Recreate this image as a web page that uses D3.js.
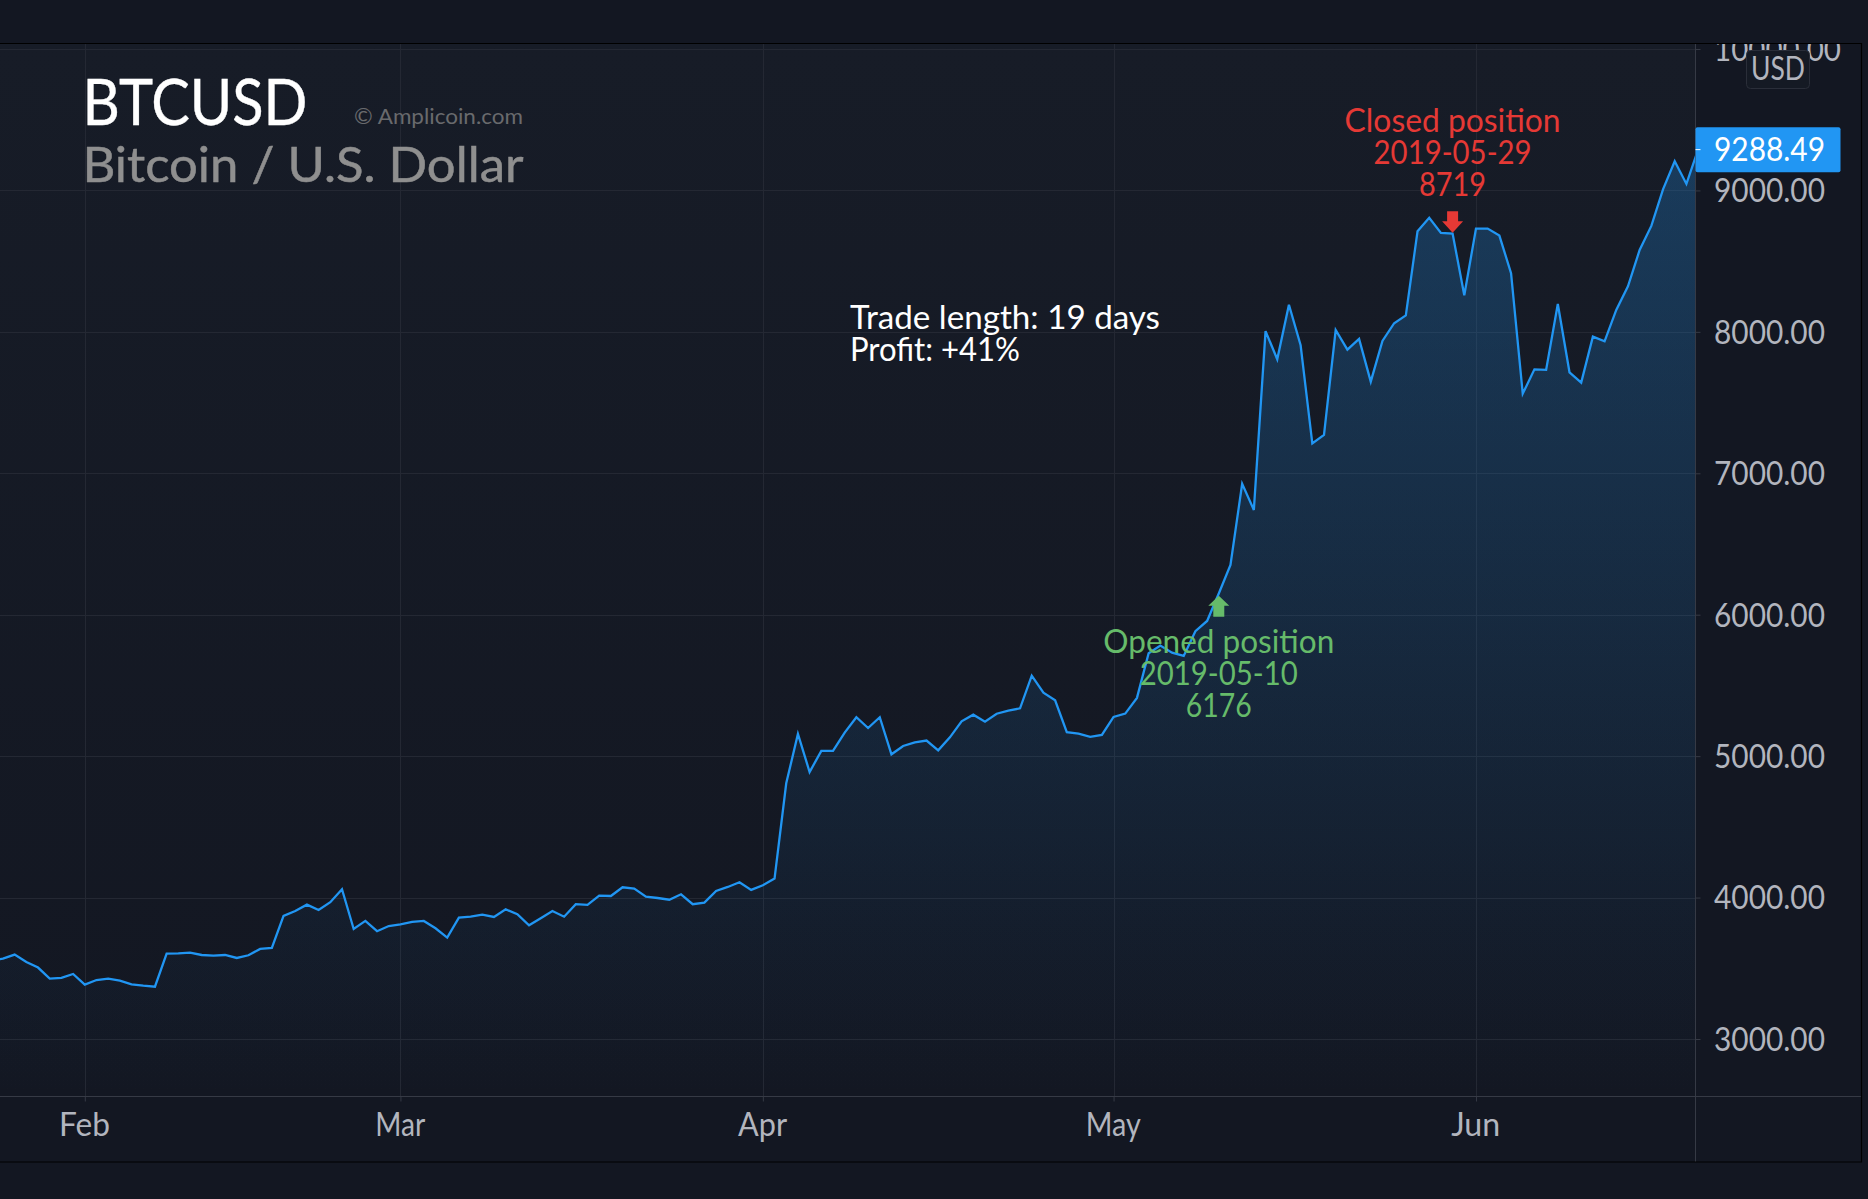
<!DOCTYPE html>
<html><head><meta charset="utf-8">
<script src="https://cdn.jsdelivr.net/npm/d3@7/dist/d3.min.js"></script>
<style>html,body{margin:0;padding:0;background:#131722;overflow:hidden}svg{display:block}</style>
</head><body><svg id="c" width="1868" height="1199"></svg>
<script>
const closes = [3554,3568,3597,3545,3505,3427,3432,3460,3385,3417,3427,3413,3387,3377,3370,3604,3606,3611,3594,3590,3594,3573,3592,3637,3644,3870,3905,3950,3912,3967,4059,3778,3835,3762,3799,3811,3828,3835,3783,3717,3858,3865,3879,3863,3917,3882,3804,3854,3905,3865,3953,3948,4014,4011,4073,4063,4007,3997,3985,4023,3953,3964,4047,4075,4108,4054,4087,4134,4808,5157,4888,5037,5037,5166,5275,5199,5275,5013,5072,5098,5110,5041,5133,5246,5293,5244,5300,5322,5338,5569,5449,5395,5169,5159,5136,5150,5277,5301,5412,5727,5782,5732,5709,5883,5956,6150,6352,6925,6741,8005,7806,8192,7905,7211,7272,8013,7874,7950,7648,7936,8061,8116,8711,8806,8700,8695,8259,8730,8730,8681,8415,7563,7735,7731,8197,7714,7641,7966,7933,8155,8322,8579,8749,9008,9206,9046,9288.49];
const monthLabels = ["Feb","Mar","Apr","May","Jun"];
const monthIndex = [8,35,66,96,127];
const priceTicks = [3000,4000,5000,6000,7000,8000,9000,10000];
const lastPrice = 9288.49;
const openIndex = 105, openPrice = 6176;
const closeIndex = 125, closePrice = 8719;
const openLines = ["Opened position","2019-05-10","6176"];
const closeLines = ["Closed position","2019-05-29","8719"];
const tradeLines = ["Trade length: 19 days","Profit: +41%"];

// layout: rendered widths that stand in for the reference's typeface metrics
const monthWidths=[51,50,49,55,49], openWidths=[231,158,66], closeWidths=[216,158,67], tradeWidths=[310,170];
const W=1868,H=1199,paneT=44,paneR=1695.5,axisY=1096.5,paneB=1162,frameR=1861.5;
const UI="Lato, 'Open Sans', sans-serif", TITLE="Lato, 'Open Sans', sans-serif", FS=32;
const svg=d3.select("#c");
const x=d3.scaleLinear().domain([8,146]).range([84.8,1698.1]);
const y=d3.scaleLinear().domain([3000,10000]).range([1039,49]);
const defs=svg.append("defs");
const g1=defs.append("linearGradient").attr("id","bg").attr("gradientUnits","userSpaceOnUse").attr("x1",0).attr("x2",0).attr("y1",paneT).attr("y2",axisY);
g1.append("stop").attr("offset",0).attr("stop-color","#171c27");
g1.append("stop").attr("offset",1).attr("stop-color","#131722");
const g2=defs.append("linearGradient").attr("id","ar").attr("gradientUnits","userSpaceOnUse").attr("x1",0).attr("x2",0).attr("y1",paneT).attr("y2",axisY);
g2.append("stop").attr("offset",0).attr("stop-color","#2196f3").attr("stop-opacity",.29);
g2.append("stop").attr("offset",1).attr("stop-color","#2196f3").attr("stop-opacity",.0);
defs.append("clipPath").attr("id","pane").append("rect").attr("x",0).attr("y",paneT).attr("width",paneR).attr("height",axisY-paneT);
defs.append("clipPath").attr("id","price").append("rect").attr("x",paneR).attr("y",paneT).attr("width",frameR-paneR).attr("height",axisY-paneT);

svg.append("rect").attr("width",W).attr("height",H).attr("fill","#131722");
svg.append("rect").attr("x",0).attr("y",paneT).attr("width",paneR).attr("height",axisY-paneT).attr("fill","url(#bg)");

const gridC="#242833";
const gp=svg.append("g").attr("clip-path","url(#pane)");
gp.selectAll("line.h").data(priceTicks).join("line").attr("class","h").attr("x1",0).attr("x2",paneR).attr("y1",d=>Math.round(y(d))+.5).attr("y2",d=>Math.round(y(d))+.5).attr("stroke",gridC).attr("stroke-width",1);
gp.selectAll("line.v").data(monthIndex).join("line").attr("class","v").attr("y1",paneT).attr("y2",axisY).attr("x1",d=>Math.round(x(d))+.5).attr("x2",d=>Math.round(x(d))+.5).attr("stroke",gridC).attr("stroke-width",1);

const pts=closes.map((v,i)=>[i,v]);
gp.append("path").datum(pts).attr("fill","url(#ar)").attr("d",d3.area().x(d=>x(d[0])).y0(axisY).y1(d=>y(d[1])));
gp.append("path").datum(pts).attr("fill","none").attr("stroke","#2196f3").attr("stroke-width",2.3).attr("stroke-linejoin","miter").attr("d",d3.line().x(d=>x(d[0])).y(d=>y(d[1])));

// axes
const axisC="#363a45";
const xa=svg.append("g").attr("transform",`translate(0,${axisY})`).call(d3.axisBottom(x).tickValues(monthIndex).tickFormat((d,i)=>monthLabels[i]).tickSize(5));
xa.select(".domain").remove();
xa.selectAll("line").attr("stroke",axisC);
xa.selectAll("text").attr("x",-0.8).attr("y",39.2).attr("dy",0).attr("fill","#b2b5be").attr("font-family",UI).attr("font-size",FS)
  .attr("textLength",(d,i)=>monthWidths[i]).attr("lengthAdjust","spacingAndGlyphs");
const ya=svg.append("g").attr("clip-path","url(#price)").append("g").attr("transform",`translate(${paneR},0)`).call(d3.axisRight(y).tickValues(priceTicks).tickFormat(d3.format(".2f")).tickSize(5));
ya.select(".domain").remove();
ya.selectAll("line").attr("stroke",axisC);
ya.selectAll("text").attr("x",18.5).attr("dy",11.3).attr("fill","#b2b5be").attr("font-family",UI).attr("font-size",FS)
  .attr("textLength",d=>d>=10000?127:111).attr("lengthAdjust","spacingAndGlyphs");

svg.append("line").attr("x1",0).attr("x2",frameR).attr("y1",axisY).attr("y2",axisY).attr("stroke",axisC);
svg.append("line").attr("x1",paneR).attr("x2",paneR).attr("y1",paneT).attr("y2",paneB).attr("stroke",axisC);

// frame
svg.append("path").attr("fill","none").attr("stroke","#000").attr("stroke-width",1.2).attr("d",`M0,${paneT-.5}H${frameR}V${paneB}H0`);

// last price label
const py=y(lastPrice);
svg.append("rect").attr("x",paneR).attr("y",py-22.5).attr("width",frameR-21-paneR).attr("height",45).attr("rx",2).attr("fill","#2196f3");
svg.append("line").attr("x1",paneR).attr("x2",paneR+5).attr("y1",py).attr("y2",py).attr("stroke","#fff");
svg.append("text").attr("x",paneR+18.5).attr("y",py+11.8).attr("fill","#fff").attr("font-family",UI).attr("font-size",FS).attr("textLength",111).attr("lengthAdjust","spacingAndGlyphs").text(d3.format(".2f")(lastPrice));

// USD badge
svg.append("rect").attr("x",1746.5).attr("y",50.5).attr("width",63).attr("height",38).attr("rx",4).attr("fill","#151a24").attr("stroke","#2a2e39");
svg.append("text").attr("x",1778).attr("y",80).attr("text-anchor","middle").attr("fill","#b2b5be").attr("font-family",UI).attr("font-size",FS).attr("textLength",54).attr("lengthAdjust","spacingAndGlyphs").text("USD");

// watermark
const wm=svg.append("g");
wm.append("text").attr("x",82.5).attr("y",124.5).attr("fill","#fff").attr("stroke","#fff").attr("stroke-width",.4).attr("font-family",TITLE).attr("font-size",64).attr("textLength",225).attr("lengthAdjust","spacingAndGlyphs").text("BTCUSD");
wm.append("text").attr("x",82.5).attr("y",182).attr("fill","#8f8f8f").attr("stroke","#8f8f8f").attr("stroke-width",.5).attr("font-family",TITLE).attr("font-size",49).attr("textLength",441).attr("lengthAdjust","spacingAndGlyphs").text("Bitcoin / U.S. Dollar");
wm.append("text").attr("x",354).attr("y",124).attr("fill","#696a6d").attr("font-family",TITLE).attr("font-size",22).attr("textLength",169).attr("lengthAdjust","spacingAndGlyphs").text("© Amplicoin.com");

// annotations
const upArrow="M0,-10 L10.5,0 L5.5,0 L5.5,11 L-5.5,11 L-5.5,0 L-10.5,0 Z";
const downArrow="M0,10.5 L10.5,-1 L5.5,-1 L5.5,-11 L-5.5,-11 L-5.5,-1 L-10.5,-1 Z";
svg.append("path").attr("d",upArrow).attr("fill","#66bb6a").attr("transform",`translate(${x(openIndex)},${y(openPrice)+16})`);
svg.append("path").attr("d",downArrow).attr("fill","#e53935").attr("transform",`translate(${x(closeIndex)},${y(closePrice)-8})`);
svg.append("g").selectAll("text").data(openLines).join("text").attr("x",x(openIndex)).attr("y",(d,i)=>653.4+i*32).attr("text-anchor","middle").attr("fill","#66bb6a").attr("font-family",UI).attr("font-size",FS).attr("textLength",(d,i)=>openWidths[i]).attr("lengthAdjust","spacingAndGlyphs").text(d=>d);
svg.append("g").selectAll("text").data(closeLines).join("text").attr("x",x(closeIndex)).attr("y",(d,i)=>132.4+i*32).attr("text-anchor","middle").attr("fill","#e53935").attr("font-family",UI).attr("font-size",FS).attr("textLength",(d,i)=>closeWidths[i]).attr("lengthAdjust","spacingAndGlyphs").text(d=>d);
svg.append("g").selectAll("text").data(tradeLines).join("text").attr("x",850).attr("y",(d,i)=>328.6+i*32).attr("fill","#fff").attr("font-family",UI).attr("font-size",FS).attr("textLength",(d,i)=>tradeWidths[i]).attr("lengthAdjust","spacingAndGlyphs").text(d=>d);
</script></body></html>
